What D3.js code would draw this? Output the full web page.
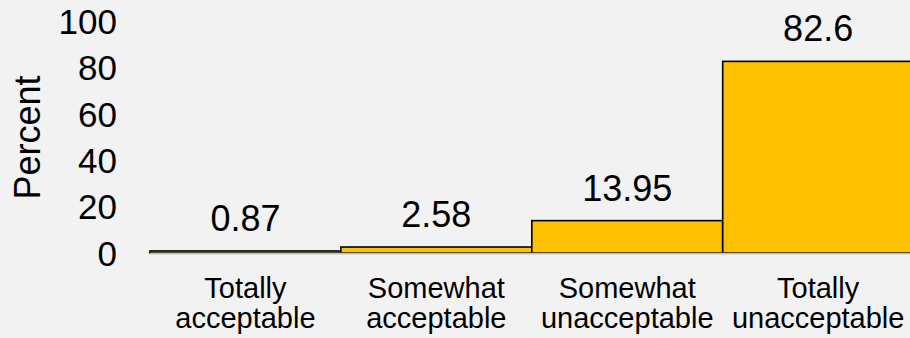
<!DOCTYPE html>
<html>
<head>
<meta charset="utf-8">
<script src="https://cdn.jsdelivr.net/npm/d3@7"></script>
<style>
  html, body { margin: 0; padding: 0; background: #F2F2F2; }
  svg { display: block; }
  text { font-family: "Liberation Sans", Arial, sans-serif; fill: #000; }
</style>
</head>
<body>
<svg id="chart" width="910" height="338"></svg>
<script>
const categories = [["Totally", "acceptable"], ["Somewhat", "acceptable"], ["Somewhat", "unacceptable"], ["Totally", "unacceptable"]];
const values = [0.87, 2.58, 13.95, 82.6];
const valueLabels = ["0.87", "2.58", "13.95", "82.6"];
const yTicks = [0, 20, 40, 60, 80, 100];
const yTitle = "Percent";

(function () {
const W = 910, H = 338;
const mLeft = 150, mRight = 913.6, mTop = 21, mBottom = 253;
const svg = d3.select("#chart");
svg.append("rect").attr("width", W).attr("height", H).attr("fill", "#F2F2F2");

const keys = categories.map((c, i) => i);
const x = d3.scaleBand().domain(keys).range([mLeft, mRight]).padding(0);
const y = d3.scaleLinear().domain([0, 100]).range([mBottom, mTop]);

// bars
svg.append("g").selectAll("rect").data(values).join("rect")
  .attr("x", (d, i) => x(i))
  .attr("y", d => y(d))
  .attr("width", x.bandwidth())
  .attr("height", d => y(0) - y(d))
  .attr("fill", "#FFC000")
  .attr("stroke", "#000")
  .attr("stroke-width", 1.6);

// x axis baseline
svg.append("line")
  .attr("x1", mLeft).attr("x2", W)
  .attr("y1", y(0) + 0.6).attr("y2", y(0) + 0.6)
  .attr("stroke", "#BFBFBF").attr("stroke-width", 1.6);

// y axis
const yAxis = d3.axisLeft(y).tickValues(yTicks).tickSize(0).tickPadding(0).tickFormat(d3.format("d"));
const gy = svg.append("g").attr("transform", "translate(117,0)").call(yAxis);
gy.select(".domain").remove();
gy.selectAll("text").attr("font-size", 35).attr("font-family", "Liberation Sans, Arial, sans-serif").attr("fill", "#000").attr("dy", "0.35em");

// y title
svg.append("text")
  .attr("transform", `translate(40,${(75 + 200) / 2}) rotate(-90)`)
  .attr("text-anchor", "middle")
  .attr("font-size", 36)
  .text(yTitle);

// value labels
svg.append("g").selectAll("text").data(values).join("text")
  .attr("x", (d, i) => x(i) + x.bandwidth() / 2)
  .attr("y", d => y(d) - 20)
  .attr("text-anchor", "middle")
  .attr("font-size", 36)
  .text((d, i) => valueLabels[i]);

// category labels
const cg = svg.append("g").selectAll("text").data(categories).join("text")
  .attr("x", (d, i) => x(i) + x.bandwidth() / 2)
  .attr("y", 298)
  .attr("text-anchor", "middle")
  .attr("font-size", 29);
cg.selectAll("tspan").data(d => d).join("tspan")
  .attr("x", function() { return d3.select(this.parentNode).attr("x"); })
  .attr("dy", (d, j) => j === 0 ? 0 : 29.5)
  .text(d => d);
})();
</script>
</body>
</html>
